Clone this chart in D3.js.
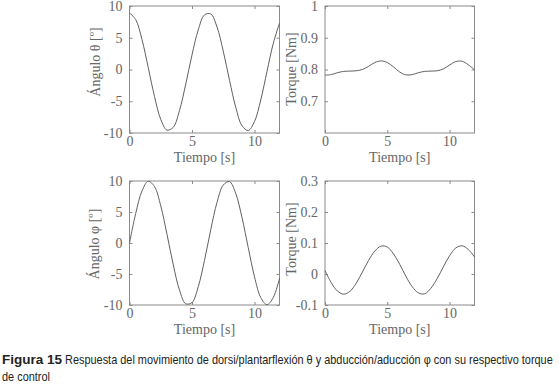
<!DOCTYPE html>
<html>
<head>
<meta charset="utf-8">
<script src="https://cdn.jsdelivr.net/npm/d3@7"></script>
<style>
  html, body { margin: 0; padding: 0; background: #fff; }
  svg { display: block; }
</style>
</head>
<body>
<svg id="chart" width="559" height="389"></svg>
<script>
// ---- data ----
const time        = [0,0.5,1,1.5,2,2.5,3,3.5,4,4.5,5,5.5,6,6.5,7,7.5,8,8.5,9,9.5,10,10.5,11,11.5,12];
const thetaDeg    = [8.9,7.85,4.7,0.3,-4.25,-7.85,-9.55,-9.1,-6.45,-2.3,2.3,6.25,8.6,8.75,6.7,2.9,-1.7,-5.95,-8.85,-9.6,-8.2,-4.8,-0.3,4.1,7.3];
const torqueTheta = [0.782,0.784,0.790,0.794,0.795,0.796,0.800,0.810,0.822,0.827,0.822,0.808,0.792,0.783,0.784,0.790,0.794,0.795,0.796,0.802,0.814,0.825,0.826,0.815,0.799];
const phiDeg      = [0,4.8,8.4,9.95,9.1,6.0,1.4,-3.5,-7.6,-9.8,-9.6,-7.05,-2.8,2.15,6.55,9.35,9.9,8.0,4.1,-0.75,-5.45,-8.8,-9.95,-8.8,-5.7];
const torquePhi   = [0.011,-0.028,-0.055,-0.065,-0.056,-0.030,0.006,0.044,0.074,0.090,0.087,0.065,0.031,-0.008,-0.041,-0.061,-0.064,-0.046,-0.015,0.023,0.059,0.084,0.091,0.079,0.055];

const xTicks        = [0,5,10];
const thetaTicks    = [-10,-5,0,5,10];
const torqueThTicks = [0.7,0.8,0.9,1];
const phiTicks      = [-10,-5,0,5,10];
const torquePhTicks = [-0.1,0,0.1,0.2,0.3];

const xLabel = "Tiempo [s]";
const captionBold = "Figura 15";
const captionRest = "Respuesta del movimiento de dorsi/plantarflexión θ y abducción/aducción φ con su respectivo torque";
const captionLine2 = "de control";

// ---- layout ----
const svg = d3.select("#chart");
const axisColor = "#8a8a8a";
const textColor = "#666";
const lineColor = "#606060";
const serif = "'Liberation Serif','Times New Roman',serif";

const panels = [
  { x0:129.5, x1:279.5, y0:6,   y1:133, yDomain:[-10,10],  yTicks:thetaTicks,    values:thetaDeg,    label:"Ángulo θ [º]",   labelX:100, labelY:62,  fmt:d=>d },
  { x0:325,   x1:474.5, y0:6,   y1:133, yDomain:[0.6,1],   yTicks:torqueThTicks, values:torqueTheta, label:"Torque [Nm]",    labelX:296, labelY:69,  fmt:d=>d },
  { x0:129.5, x1:279.5, y0:181, y1:305, yDomain:[-10,10],  yTicks:phiTicks,      values:phiDeg,      label:"Ángulo φ  [º]",  labelX:99,  labelY:244, fmt:d=>d },
  { x0:325,   x1:474.5, y0:181, y1:305, yDomain:[-0.1,0.3],yTicks:torquePhTicks, values:torquePhi,   label:"Torque [Nm]",    labelX:296, labelY:239, fmt:d=>d }
];

panels.forEach(p => {
  const x = d3.scaleLinear().domain([0,12]).range([p.x0, p.x1]);
  const y = d3.scaleLinear().domain(p.yDomain).range([p.y1, p.y0]);
  const g = svg.append("g");

  g.append("rect")
    .attr("x", p.x0).attr("y", p.y0)
    .attr("width", p.x1 - p.x0).attr("height", p.y1 - p.y0)
    .attr("fill", "none").attr("stroke", axisColor).attr("stroke-width", 1);

  const tl = 3;
  const bottom = g.append("g").attr("transform", `translate(0,${p.y1})`)
    .call(d3.axisBottom(x).tickValues(xTicks).tickSizeInner(-tl).tickSizeOuter(0).tickPadding(12));
  const top = g.append("g").attr("transform", `translate(0,${p.y0})`)
    .call(d3.axisTop(x).tickValues(xTicks).tickSizeInner(-tl).tickSizeOuter(0).tickFormat(""));
  const left = g.append("g").attr("transform", `translate(${p.x0},0)`)
    .call(d3.axisLeft(y).tickValues(p.yTicks).tickSizeInner(-tl).tickSizeOuter(0).tickPadding(7).tickFormat(p.fmt));
  const right = g.append("g").attr("transform", `translate(${p.x1},0)`)
    .call(d3.axisRight(y).tickValues(p.yTicks).tickSizeInner(-tl).tickSizeOuter(0).tickFormat(""));
  [bottom, top, left, right].forEach(a => {
    a.select(".domain").remove();
    a.selectAll(".tick line").attr("stroke", axisColor);
    a.selectAll("text").attr("fill", textColor)
      .style("font-family", serif).style("font-size", "14px");
  });
  bottom.selectAll("text").attr("dy", "0.32em").attr("y", 8.5);

  const data = time.map((t, i) => [t, p.values[i]]);
  g.append("path").datum(data)
    .attr("fill", "none").attr("stroke", lineColor).attr("stroke-width", 1)
    .attr("d", d3.line().x(d => x(d[0])).y(d => y(d[1])).curve(d3.curveCatmullRom.alpha(0.5)));

  g.append("text")
    .attr("x", (p.x0 + p.x1) / 2).attr("y", p.y1 + 29)
    .attr("text-anchor", "middle").attr("fill", textColor)
    .style("font-family", serif).style("font-size", "14px")
    .text(xLabel);
  g.append("text")
    .attr("transform", `translate(${p.labelX},${p.labelY}) rotate(-90)`)
    .attr("text-anchor", "middle").attr("fill", textColor)
    .style("font-family", serif).style("font-size", "14px")
    .text(p.label);
});

// caption: bold lead-in at normal width, rest condensed to mimic the narrow font
const sans = "'Liberation Sans',Arial,sans-serif";
const lead = svg.append("text").attr("x", 2).attr("y", 364).attr("fill", "#222")
  .style("font-family", sans).style("font-weight", "bold").style("font-size", "13.5px")
  .text(captionBold);
const leadEnd = 2 + lead.node().getComputedTextLength() + 3;
const rest = svg.append("text").attr("fill", "#222")
  .style("font-family", sans).style("font-size", "12px")
  .text(captionRest);
const w = rest.node().getComputedTextLength();
const sx = (553 - leadEnd) / w;
rest.attr("transform", `translate(${leadEnd},364) scale(${sx},1)`);
svg.append("text").attr("fill", "#222")
  .attr("transform", `translate(2,381) scale(${sx},1)`)
  .style("font-family", sans).style("font-size", "12px")
  .text(captionLine2);
</script>
</body>
</html>
